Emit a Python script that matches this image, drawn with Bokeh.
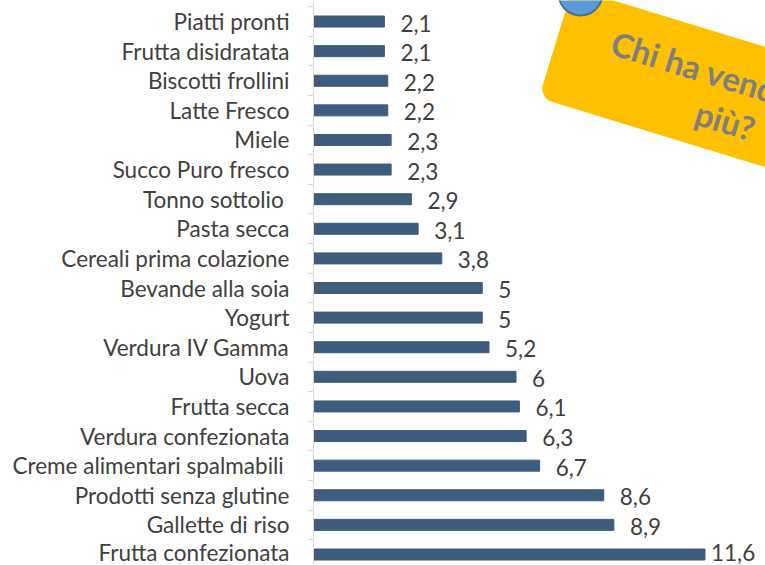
import math
from bokeh.plotting import figure
from bokeh.models import Range1d, FixedTicker, ColumnDataSource
from bokeh.core.properties import value
from bokeh.embed import file_html
from bokeh.resources import INLINE

categories = ["Piatti pronti", "Frutta disidratata", "Biscotti frollini", "Latte Fresco",
              "Miele", "Succo Puro fresco", "Tonno sottolio ", "Pasta secca",
              "Cereali prima colazione", "Bevande alla soia", "Yogurt", "Verdura IV Gamma",
              "Uova", "Frutta secca", "Verdura confezionata", "Creme alimentari spalmabili ",
              "Prodotti senza glutine", "Gallette di riso", "Frutta confezionata"]
values = [2.1, 2.1, 2.2, 2.2, 2.3, 2.3, 2.9, 3.1, 3.8, 5, 5, 5.2, 6, 6.1, 6.3, 6.7, 8.6, 8.9, 11.6]
note_lines = ["Chi ha venduto di", "più?"]

n = len(categories)
pos = [n - 1 - i for i in range(n)]
labels = [("%g" % v).replace(".", ",") for v in values]
label_dx = [16 if v < max(values) else 6 for v in values]
label_dy = [1.5 if v < max(values) else -2 for v in values]

W, H = 765, 565
LEFT = 313
XS = 33.75      # px per unit
YS = 29.61      # px per category
Y0 = -11 / YS
x_end = (W - LEFT) / XS
y_end = Y0 + H / YS

FONT = "Lato"
TXT = "#404040"
BAR = "#3E5C7B"
FS = "22.5px"

p = figure(width=W, height=H, output_backend="svg", toolbar_location=None,
           x_range=Range1d(0, x_end), y_range=Range1d(Y0, y_end),
           min_border_left=LEFT, min_border_right=0, min_border_top=0, min_border_bottom=0)
p.outline_line_color = None
p.grid.visible = False
p.xaxis.visible = False

src = ColumnDataSource(dict(y=pos, v=values, lab=labels, dx=label_dx, dy=label_dy))
p.hbar(y="y", right="v", left=0, height=11 / YS, source=src, fill_color=BAR, line_color=BAR)
p.text(x="v", y="y", text="lab", source=src, x_offset="dx", y_offset="dy",
       text_font=value(FONT), text_font_size=FS, text_color=TXT,
       text_baseline="middle", text_align="left")

ax = p.yaxis[0]
ax.ticker = FixedTicker(ticks=pos, minor_ticks=[k - 0.5 for k in range(n + 1)])
ax.major_label_overrides = {pos[i]: categories[i] for i in range(n)}
ax.major_label_text_font = FONT
ax.major_label_text_font_size = FS
ax.major_label_text_color = TXT
ax.major_tick_line_color = None
ax.major_tick_out = 0
ax.major_tick_in = 0
ax.major_label_standoff = 19
ax.minor_tick_line_color = "#D9D9D9"
ax.minor_tick_out = 5
ax.minor_tick_in = 0
ax.axis_line_color = "#D9D9D9"


# ---- sticky note decoration (positions given in window pixels) ----
def dx(wx):
    return (wx - LEFT) / XS


def dy(wy):
    return Y0 + (H - wy) / YS


ang = math.radians(17)
u = (math.cos(ang), math.sin(ang))
v = (-math.sin(ang), math.cos(ang))
c0 = (572, -12.5)
NW, NH, R = 330, 115, 14


def loc(a, b):
    return (c0[0] + a * u[0] + b * v[0], c0[1] + a * u[1] + b * v[1])


pts = []
corners = [(NW - R, R, -90), (NW - R, NH - R, 0), (R, NH - R, 90), (R, R, 180)]
for cx, cy, start in corners:
    for k in range(10):
        t = math.radians(start + 90 * k / 9)
        pts.append(loc(cx + R * math.cos(t), cy + R * math.sin(t)))
p.patch([dx(a) for a, b in pts], [dy(b) for a, b in pts], fill_color="#FFC000", line_color=None)

p.scatter([dx(580)], [dy(-7)], size=44, fill_color="#5B9BD5", line_color="#41719C", line_width=2)

anchors = [(612, 41), (696, 111)]
p.text([dx(a) for a, b in anchors], [dy(b) for a, b in anchors], text=note_lines,
       angle=-17, angle_units="deg",
       text_font=value(FONT), text_font_style="bold", text_font_size="33px", text_color="#7F7F7F",
       text_align="left", text_baseline="middle")

open("out.html", "w").write(file_html(p, INLINE))
